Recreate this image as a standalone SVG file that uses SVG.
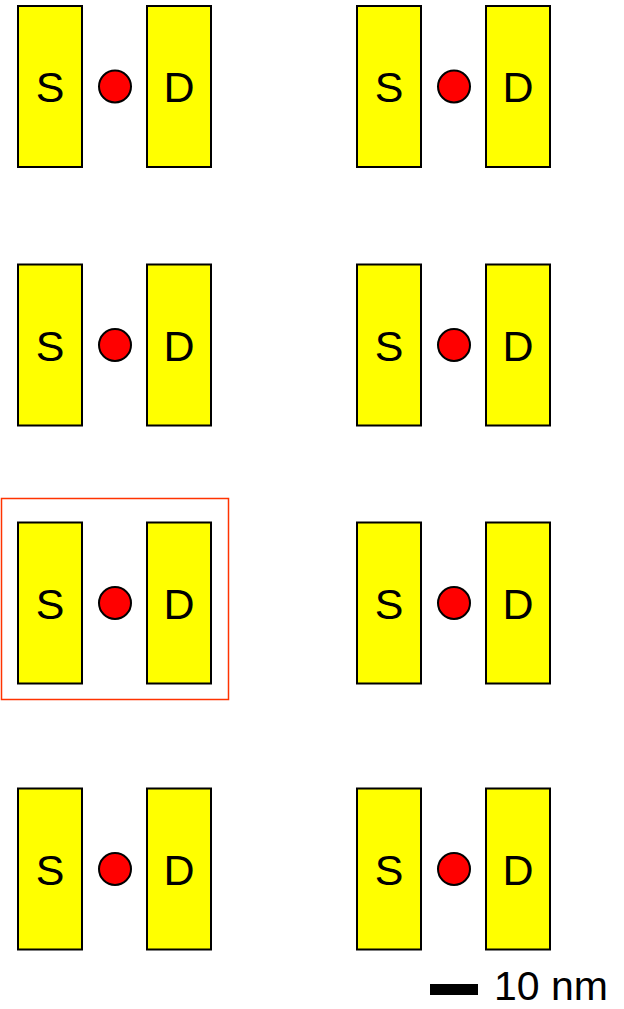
<svg xmlns="http://www.w3.org/2000/svg" width="624" height="1009" viewBox="0 0 624 1009">
  <style>
    .elec { fill: #ffff00; stroke: #000; stroke-width: 2; }
    .dot { fill: #ff0000; stroke: #000; stroke-width: 2; }
    .lbl { font-family: "Liberation Sans", Arial, sans-serif; font-size: 43px; fill: #000; text-anchor: middle; }
    .frame { fill: none; stroke: #ff3300; stroke-width: 1.5; }
    .scale { font-family: "Liberation Sans", Arial, sans-serif; font-size: 41px; fill: #000; }
  </style>
  <defs>
    <!-- one source / dot / drain device, origin at top-left of the source electrode -->
    <g id="device">
      <rect class="elec" x="0" y="0" width="64" height="161"/>
      <rect class="elec" x="129" y="0" width="64" height="161"/>
      <circle class="dot" cx="97" cy="80.5" r="16"/>
      <text class="lbl" x="32" y="96">S</text>
      <text class="lbl" x="161" y="96">D</text>
    </g>
  </defs>

  <g id="dev-r1-c1"><use href="#device" x="18" y="6"/></g>
  <g id="dev-r1-c2"><use href="#device" x="357" y="6"/></g>
  <g id="dev-r2-c1"><use href="#device" x="18" y="264.5"/></g>
  <g id="dev-r2-c2"><use href="#device" x="357" y="264.5"/></g>
  <g id="dev-r3-c1"><use href="#device" x="18" y="522.5"/></g>
  <g id="dev-r3-c2"><use href="#device" x="357" y="522.5"/></g>
  <g id="dev-r4-c1"><use href="#device" x="18" y="788.5"/></g>
  <g id="dev-r4-c2"><use href="#device" x="357" y="788.5"/></g>

  <!-- highlight frame around one device -->
  <g id="highlight">
    <rect class="frame" x="1.5" y="498.5" width="227" height="201"/>
  </g>

  <!-- scale bar -->
  <g id="scale-bar">
    <rect x="430" y="984" width="48" height="11" fill="#000"/>
    <text class="scale" x="494" y="1000">10 nm</text>
  </g>
</svg>
